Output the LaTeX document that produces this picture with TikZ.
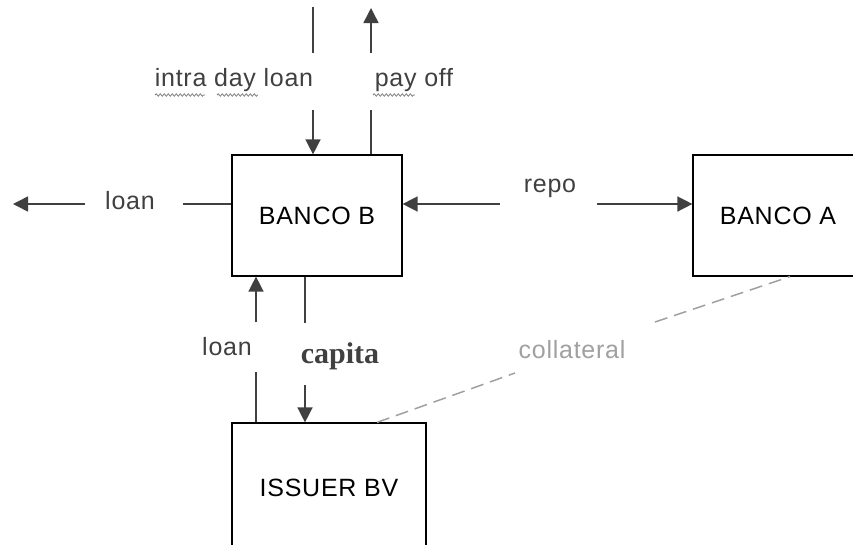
\documentclass[tikz,border=0pt]{standalone}
\usepackage{fontspec}
\setmainfont[LetterSpace=3]{Liberation Sans}
\newfontfamily\capfont{Liberation Serif}
\usetikzlibrary{arrows.meta, positioning, decorations.pathmorphing}

\definecolor{labelgray}{HTML}{404040}
\definecolor{linegray}{HTML}{404040}
\definecolor{collgray}{HTML}{A0A0A0}
\definecolor{squiggray}{HTML}{808080}

\begin{document}
\begin{tikzpicture}[
  x=1pt, y=-1pt,
  box/.style={draw=black, line width=1.2pt, minimum width=170pt, minimum height=121pt, inner sep=0pt, font=\fontsize{25}{29}\selectfont},
  lbl/.style={text=labelgray, inner sep=0pt, font=\fontsize{25}{29}\selectfont},
  ln/.style={draw=linegray, line width=1.5pt},
  arr/.style={ln, -{Triangle[length=15pt, width=15pt]}},
  coll/.style={draw=collgray, line width=1.5pt, dash pattern=on 13pt off 7pt},
  squig/.style={draw=squiggray, line width=0.8pt, decorate, decoration={snake, segment length=4pt, amplitude=1.2pt}}
]
\useasboundingbox (0,0) rectangle (853,544);
\clip (0,0) rectangle (853,544);

\node[box] (bankB) at (317,215.5) {BANCO B};
\node[box] (bankA) at (778,215.5) {BANCO A};
\node[box, minimum width=194pt, minimum height=130pt] (issuer) at (329,488) {ISSUER BV};

\node[lbl] (intraLbl) at (234,80) {intra day loan};
\node[lbl] (payLbl) at (414,80) {pay off};
\node[lbl] (loanLeft) at (130,201) {loan};
\node[lbl] (repoLbl) at (550,188) {repo};
\node[lbl] (loanLow) at (227,347) {loan};
\node[text=labelgray, inner sep=0pt, font=\capfont\bfseries\fontsize{30}{34}\selectfont] (capLbl) at (340,356) {capita};
\node[lbl, text=collgray] (collLbl) at (572,350) {collateral};

% spell-check waves
\draw[squig] (155,95) -- (205,95);
\draw[squig] (217,95) -- (258,95);
\draw[squig] (373,95) -- (415,95);

\coordinate (intraTop) at (313,7);
\coordinate (intraMid) at (313,53);
\coordinate (intraLow) at (313,110);
\coordinate (payTop) at (371,8);
\coordinate (payMid) at (371,53);
\coordinate (payLow) at (371,110);
\coordinate (loanW) at (13,204);
\coordinate (loanWa) at (85,204);
\coordinate (loanWb) at (183,204);
\coordinate (repoL) at (500,204);
\coordinate (repoR) at (597,204);
\coordinate (loanUp) at (256,322);
\coordinate (loanDn) at (256,372);
\coordinate (capUp) at (305,323);
\coordinate (capDn) at (305,385);
\coordinate (collA) at (515,373);
\coordinate (collB) at (655,322);
\coordinate (collIss) at (377,423);
\coordinate (collBank) at (790,276);

\draw[ln] (intraTop) -- (intraMid);
\draw[arr] (intraLow) -- (intraLow |- bankB.north);
\draw[ln] (payLow |- bankB.north) -- (payLow);
\draw[arr] (payMid) -- (payTop);
\draw[ln] (bankB.west |- loanWb) -- (loanWb);
\draw[arr] (loanWa) -- (loanW);
\draw[arr] (repoL) -- (bankB.east |- repoL);
\draw[arr] (repoR) -- (bankA.west |- repoR);
\draw[arr] (loanUp) -- (loanUp |- bankB.south);
\draw[ln] (loanDn) -- (loanDn |- issuer.north);
\draw[ln] (capUp |- bankB.south) -- (capUp);
\draw[arr] (capDn) -- (capDn |- issuer.north);
\draw[coll] (collIss |- issuer.north) -- (collA);
\draw[coll] (collB) -- (collBank |- bankA.south);
\end{tikzpicture}
\end{document}
